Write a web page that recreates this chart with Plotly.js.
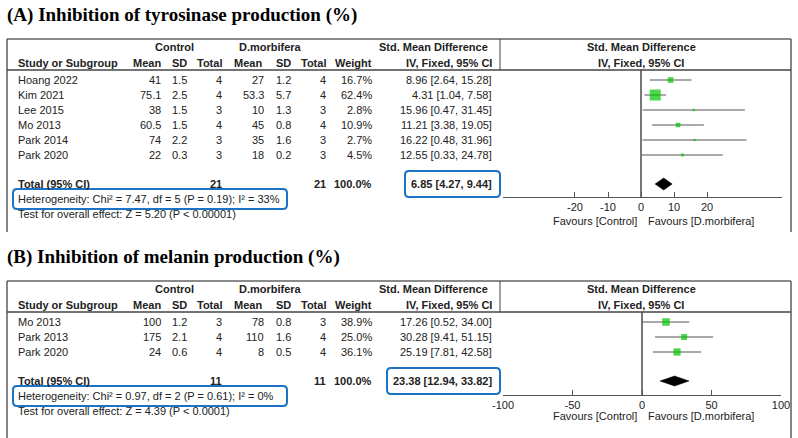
<!DOCTYPE html>
<html>
<head>
<meta charset="utf-8">
<script src="https://cdn.plot.ly/plotly-3.0.1.min.js"></script>
<style>html,body{margin:0;padding:0;background:#fff;}#chart{width:798px;height:438px;}</style>
</head>
<body>
<div id="chart"></div>
<script>
// ---------- DATA: Panel A (tyrosinase) ----------
const studiesA   = ["Hoang 2022","Kim 2021","Lee 2015","Mo 2013","Park 2014","Park 2020"];
const ctrlMeanA  = ["41","75.1","38","60.5","74","22"];
const ctrlSDA    = ["1.5","2.5","1.5","1.5","2.2","0.3"];
const ctrlNA     = [4,4,3,4,3,3];
const trtMeanA   = ["27","53.3","10","45","35","18"];
const trtSDA     = ["1.2","5.7","1.3","0.8","1.6","0.2"];
const trtNA      = [4,4,3,4,3,3];
const weightA    = [16.7,62.4,2.8,10.9,2.7,4.5];
const smdA       = [8.96,4.31,15.96,11.21,16.22,12.55];
const lowerA     = [2.64,1.04,0.47,3.38,0.48,0.33];
const upperA     = [15.28,7.58,31.45,19.05,31.96,24.78];
const totalA     = {ctrlN:21, trtN:21, smd:6.85, lower:4.27, upper:9.44};
const hetA       = "Heterogeneity: Chi² = 7.47, df = 5 (P = 0.19); I² = 33%";
const testA      = "Test for overall effect: Z = 5.20 (P &lt; 0.00001)";
const ticksA     = [-20,-10,0,10,20];

// ---------- DATA: Panel B (melanin) ----------
const studiesB   = ["Mo 2013","Park 2013","Park 2020"];
const ctrlMeanB  = ["100","175","24"];
const ctrlSDB    = ["1.2","2.1","0.6"];
const ctrlNB     = [3,4,4];
const trtMeanB   = ["78","110","8"];
const trtSDB     = ["0.8","1.6","0.5"];
const trtNB      = [3,4,4];
const weightB    = [38.9,25.0,36.1];
const smdB       = [17.26,30.28,25.19];
const lowerB     = [0.52,9.41,7.81];
const upperB     = [34.00,51.15,42.58];
const totalB     = {ctrlN:11, trtN:11, smd:23.38, lower:12.94, upper:33.82};
const hetB       = "Heterogeneity: Chi² = 0.97, df = 2 (P = 0.61); I² = 0%";
const testB      = "Test for overall effect: Z = 4.39 (P &lt; 0.0001)";
const ticksB     = [-100,-50,0,50,100];

const titleA = "(A) Inhibition of tyrosinase production (%)";
const titleB = "(B) Inhibition of melanin production (%)";
const favL = "Favours [Control]";
const favR = "Favours [D.morbifera]";
const noEffect = 0;

// ---------- LAYOUT HELPERS ----------
const W = 798, H = 438;
const PX = x => x / W;
const PY = y => 1 - y / H;
const FONT = "Liberation Sans, Arial, sans-serif";
const TXT = "#222";
const annotations = [];
const shapes = [];
function T(x, y, text, anchor, opts) {
  opts = opts || {};
  annotations.push({
    xref: "paper", yref: "paper", x: PX(x), y: PY(y), text: text,
    showarrow: false, xanchor: anchor || "left", yanchor: "middle",
    borderpad: 0,
    font: {family: opts.family || FONT, size: opts.size || 11, color: opts.color || TXT}
  });
}
function L(x0, y0, x1, y1, color, width) {
  shapes.push({type: "line", xref: "paper", yref: "paper",
    x0: PX(x0), y0: PY(y0), x1: PX(x1), y1: PY(y1),
    line: {color: color, width: width}});
}
function RR(x0, y0, x1, y1, r, color) {
  const p = (x, y) => PX(x) + "," + PY(y);
  const path = "M" + p(x0 + r, y0) + " L" + p(x1 - r, y0) + " Q" + p(x1, y0) + " " + p(x1, y0 + r) +
    " L" + p(x1, y1 - r) + " Q" + p(x1, y1) + " " + p(x1 - r, y1) +
    " L" + p(x0 + r, y1) + " Q" + p(x0, y1) + " " + p(x0, y1 - r) +
    " L" + p(x0, y0 + r) + " Q" + p(x0, y0) + " " + p(x0 + r, y0) + " Z";
  shapes.push({type: "path", xref: "paper", yref: "paper", path: path,
    line: {color: color, width: 2}});
}
const f2 = v => v.toFixed(2);
const f1 = v => v.toFixed(1);

const traces = [];
const axes = {};

function panel(cfg) {
  const top = cfg.top;             // top border y
  const hdr = top + 31;            // header line y
  const row0 = hdr + 10;           // first row y
  const rowH = 15;
  const n = cfg.studies.length;
  const totY = row0 + (n - 1) * rowH + 29;
  const hetY = totY + 15, testY = totY + 30;
  const axisY = cfg.axisY;

  // title
  T(6, top - 24, "<b>" + cfg.title + "</b>", "left",
    {family: "Liberation Serif, Times New Roman, serif", size: 19, color: "#000"});

  // borders
  L(7, top, 791, top, "#8a8a8a", 2);
  L(7, top, 7, cfg.bottom, "#444", 1.3);
  L(791, top, 791, cfg.bottom, "#444", 1.3);
  L(7, hdr, 791, hdr, "#444", 1.5);
  L(500, top, 500, hdr, "#444", 1);

  // headers
  const h1 = top + 8, h2 = top + 24;
  T(174, h1, "<b>Control</b>", "center");
  T(270, h1, "<b>D.morbifera</b>", "center");
  T(433, h1, "<b>Std. Mean Difference</b>", "center");
  T(641, h1, "<b>Std. Mean Difference</b>", "center");
  T(17, h2, "<b>Study or Subgroup</b>", "left");
  T(162, h2, "<b>Mean</b>", "right");
  T(188, h2, "<b>SD</b>", "right");
  T(223, h2, "<b>Total</b>", "right");
  T(263, h2, "<b>Mean</b>", "right");
  T(292, h2, "<b>SD</b>", "right");
  T(327, h2, "<b>Total</b>", "right");
  T(373, h2, "<b>Weight</b>", "right");
  T(493, h2, "<b>IV, Fixed, 95% CI</b>", "right");
  T(641, h2, "<b>IV, Fixed, 95% CI</b>", "center");

  // rows
  const ys = [];
  for (let i = 0; i < n; i++) {
    const y = row0 + i * rowH;
    ys.push(y);
    T(17, y, cfg.studies[i], "left");
    T(162, y, cfg.cMean[i], "right");
    T(188, y, cfg.cSD[i], "right");
    T(223, y, String(cfg.cN[i]), "right");
    T(265, y, cfg.tMean[i], "right");
    T(292, y, cfg.tSD[i], "right");
    T(327, y, String(cfg.tN[i]), "right");
    T(373, y, f1(cfg.weight[i]) + "%", "right");
    T(493, y, f2(cfg.smd[i]) + " [" + f2(cfg.lower[i]) + ", " + f2(cfg.upper[i]) + "]", "right");
  }
  // total
  const wsum = cfg.weight.reduce((a, b) => a + b, 0);
  T(17, totY, "<b>Total (95% CI)</b>", "left");
  T(223, totY, "<b>" + cfg.total.ctrlN + "</b>", "right");
  T(327, totY, "<b>" + cfg.total.trtN + "</b>", "right");
  T(373, totY, "<b>" + wsum.toFixed(1) + "%</b>", "right");
  T(493, totY, "<b>" + f2(cfg.total.smd) + " [" + f2(cfg.total.lower) + ", " + f2(cfg.total.upper) + "]</b>", "right");
  T(17, hetY, cfg.het, "left");
  T(17, testY, cfg.test, "left");
  RR(13, hetY - 10, 287, hetY + 10, 4, "#1a73c4");
  RR(cfg.boxX0, totY - 13, 500, totY + 13, 4, "#1a73c4");

  // favours
  T(638, axisY + cfg.favDy, favL, "right");
  T(647, axisY + cfg.favDy, favR, "left");

  // axes
  const xa = cfg.xa, ya = cfg.ya;
  const xkey = "xaxis" + (xa === "x" ? "" : xa.slice(1));
  const ykey = "yaxis" + (ya === "y" ? "" : ya.slice(1));
  axes[xkey] = {
    domain: [PX(503), PX(cfg.axisRight)], range: cfg.range, anchor: ya,
    showline: true, linecolor: "#555", linewidth: 1,
    ticks: "inside", ticklen: 5, tickcolor: "#555", tickwidth: 1,
    tickvals: cfg.ticks, ticktext: cfg.ticks.map(String),
    tickfont: {family: FONT, size: 11, color: TXT},
    showgrid: false, zeroline: false,
    fixedrange: true
  };
  axes[ykey] = {
    domain: [PY(axisY), PY(hdr)], range: [axisY, hdr], anchor: xa,
    showticklabels: false, ticks: "", showline: false,
    showgrid: false, zeroline: false, fixedrange: true
  };

  // line of no effect (x = 0)
  traces.push({x: [noEffect, noEffect], y: [hdr, axisY],
    xaxis: xa, yaxis: ya, mode: "lines", type: "scatter",
    line: {color: "#4a4a4a", width: 1.5}, hoverinfo: "skip"});

  // CI lines
  const lx = [], ly = [];
  for (let i = 0; i < n; i++) { lx.push(cfg.lower[i], cfg.upper[i], null); ly.push(ys[i], ys[i], null); }
  traces.push({x: lx, y: ly, xaxis: xa, yaxis: ya, mode: "lines", type: "scatter",
    line: {color: "#555", width: 1}, hoverinfo: "skip"});
  // squares
  const wmax = Math.max.apply(null, cfg.weight);
  traces.push({x: cfg.smd, y: ys, xaxis: xa, yaxis: ya, mode: "markers", type: "scatter",
    marker: {symbol: "square", color: "#00c400", line: {width: 0},
      size: cfg.weight.map(w => cfg.maxSq * Math.sqrt(w / wmax))},
    hoverinfo: "skip"});
  // diamond
  const dh = cfg.dh;
  traces.push({x: [cfg.total.lower, cfg.total.smd, cfg.total.upper, cfg.total.smd, cfg.total.lower],
    y: [totY, totY - dh, totY, totY + dh, totY], xaxis: xa, yaxis: ya,
    mode: "lines", type: "scatter", fill: "toself", fillcolor: "#000",
    line: {color: "#000", width: 0.5}, hoverinfo: "skip"});
}

panel({title: titleA, top: 39, bottom: 232, axisY: 197, axisRight: 782,
  studies: studiesA, cMean: ctrlMeanA, cSD: ctrlSDA, cN: ctrlNA, tMean: trtMeanA, tSD: trtSDA, tN: trtNA,
  weight: weightA, smd: smdA, lower: lowerA, upper: upperA, total: totalA, het: hetA, test: testA,
  ticks: ticksA, range: [-41.8, 42.7], xa: "x", ya: "y", maxSq: 11, dh: 6, boxX0: 405, favDy: 24});

panel({title: titleB, top: 281, bottom: 440, axisY: 395, axisRight: 781,
  studies: studiesB, cMean: ctrlMeanB, cSD: ctrlSDB, cN: ctrlNB, tMean: trtMeanB, tSD: trtSDB, tN: trtNB,
  weight: weightB, smd: smdB, lower: lowerB, upper: upperB, total: totalB, het: hetB, test: testB,
  ticks: ticksB, range: [-100, 100], xa: "x2", ya: "y2", maxSq: 7.5, dh: 5, boxX0: 387, favDy: 21});

const layout = Object.assign({
  width: W, height: H, margin: {l: 0, r: 0, t: 0, b: 0},
  paper_bgcolor: "#fff", plot_bgcolor: "rgba(0,0,0,0)",
  showlegend: false, annotations: annotations, shapes: shapes,
  font: {family: FONT, size: 11, color: TXT}
}, axes);

Plotly.newPlot("chart", traces, layout, {staticPlot: true, displayModeBar: false});
</script>
</body>
</html>
